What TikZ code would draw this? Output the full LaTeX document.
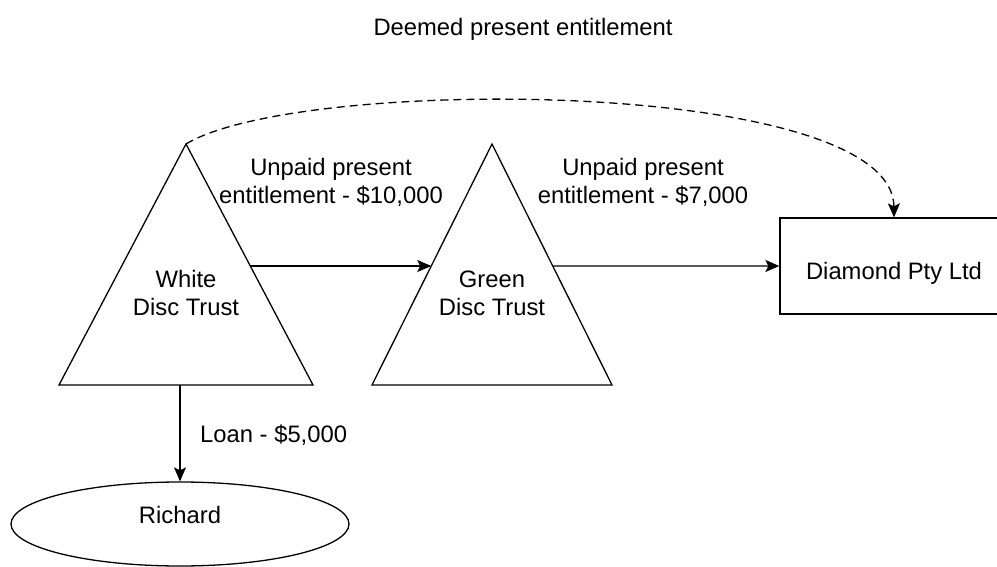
\documentclass[tikz,border=0pt]{standalone}
\usepackage{fontspec}
\setmainfont{Liberation Sans}
\usetikzlibrary{arrows.meta,calc,shapes.geometric}
\tikzset{
 conn/.style={line width=1.3pt, -{Stealth[length=14pt,width=12pt,inset=3pt]}},
 shapeline/.style={line width=1.3pt},
 txt/.style={inner sep=0pt, align=center, font=\fontsize{23.8}{28}\selectfont},
 dashconn/.style={conn, dash pattern=on 8pt off 5pt},
}
\begin{document}
\begin{tikzpicture}[x=1pt,y=-1pt]
\useasboundingbox (0,0) rectangle (997,567);
% triangles
\coordinate (wA) at (186,144); \coordinate (wL) at (59,385); \coordinate (wR) at (313,385);
\coordinate (gA) at (492,144); \coordinate (gL) at (372,385); \coordinate (gR) at (612,385);
\draw[shapeline] (wA) -- (wR) -- (wL) -- cycle;
\draw[shapeline] (gA) -- (gR) -- (gL) -- cycle;
\node[txt] (white) at (186,293) {White\\Disc Trust};
\node[txt] (green) at (492,293) {Green\\Disc Trust};
\node[txt, draw, shapeline, minimum width=228pt, minimum height=96pt, text height=27pt, text depth=0pt] (dia) at (894,266) {Diamond Pty Ltd};
\node[txt, draw, shapeline, ellipse, minimum width=338pt, minimum height=84pt, text height=17pt, text depth=19pt] (rich) at (180,524) {Richard};
\coordinate (wOut) at ($(wA)!{122/241}!(wR)$);
\coordinate (gIn) at ($(gA)!{122/241}!(gL)$);
\coordinate (gOut) at ($(gA)!{122/241}!(gR)$);
\draw[conn] (wOut) -- (gIn);
\draw[conn] (gOut) -- (dia.west);
\draw[conn] (rich.north |- wL) -- (rich.north);
\draw[dashconn] (wA) .. controls (300,75) and (893,78) .. (dia.north);
% labels
\node[txt] (l1) at (331,182) {Unpaid present\\entitlement - \$10,000};
\node[txt] (l2) at (643,182) {Unpaid present\\entitlement - \$7,000};
\node[txt, anchor=base west] (l3) at (200,442) {Loan - \$5,000};
\node[txt, anchor=base] (title) at (523,36) {Deemed present entitlement};
\end{tikzpicture}
\end{document}
